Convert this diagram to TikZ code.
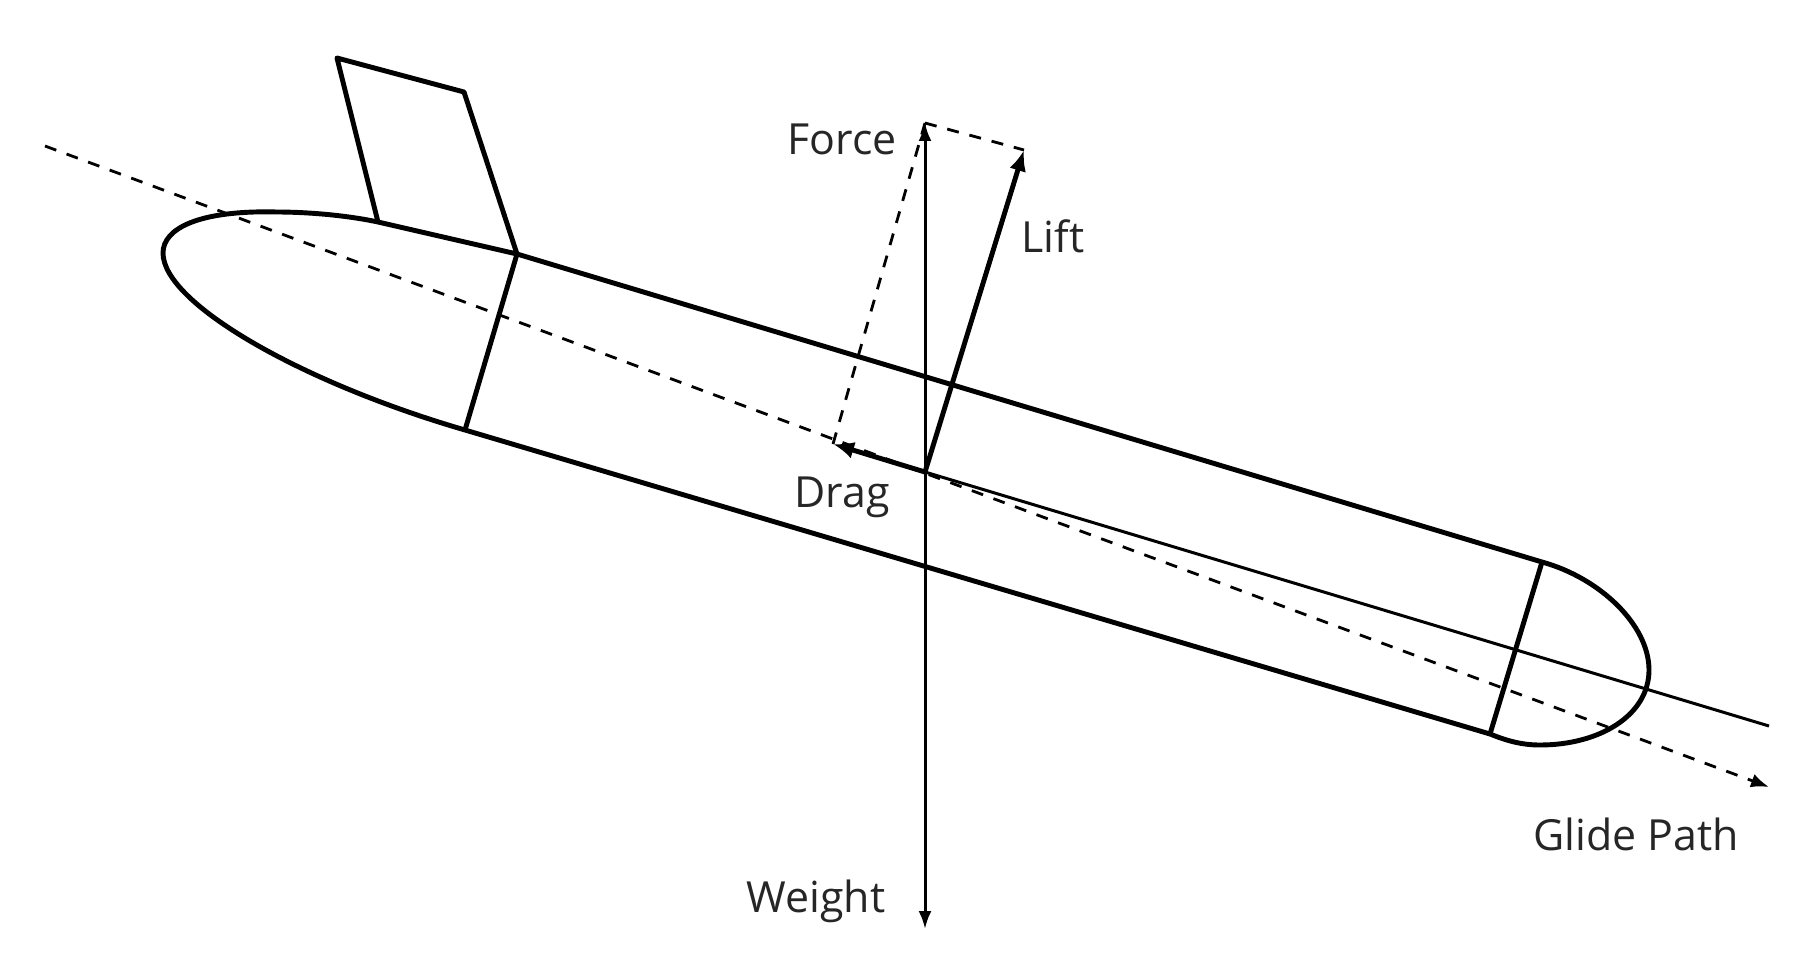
\documentclass[tikz,border=0pt]{standalone}
\usepackage{fontspec}
\setmainfont{Open Sans}
\usetikzlibrary{arrows.meta}
\tikzset{
    hull/.style={line width=2.8pt,line join=round},
    thinline/.style={line width=1.7pt},
    dashline/.style={line width=1.6pt,dash pattern=on 0.24cm off 0.22cm},
    forceTip/.style={-{Latex[length=0.42cm,width=0.34cm]}},
    forceText/.style={anchor=base,inner sep=0pt,font=\fontsize{24.4}{28}\selectfont,text=black!85}
}
\begin{document}
\begin{tikzpicture}[x=0.02cm,y=-0.02cm]
    \useasboundingbox (0,0) rectangle (1798,960);
    \coordinate (finTopL) at (337,58);
    \coordinate (finTopR) at (464,92);
    \coordinate (finBotR) at (517,254);
    \coordinate (finBotL) at (378,222);
    \coordinate (noseBot) at (465,430);
    \coordinate (tailTop) at (1542,562);
    \coordinate (tailBot) at (1490,734);
    \coordinate (glideStart) at (45,146);
    \coordinate (glideEnd) at (1769,787);
    \coordinate (bodyEnd) at (1769,726);
    \coordinate (center) at (925,472);
    \coordinate (forceEnd) at (925,123);
    \coordinate (weightEnd) at (925,929);
    \coordinate (liftEnd) at (1024,150);
    \coordinate (dragEnd) at (833,444);
    % body outline
    \draw[hull] (finBotL) .. controls (340,214) and (300,212) .. (277,212)
        .. controls (200,210) and (163,228) .. (163,253)
        .. controls (163,303) and (300,382) .. (noseBot) -- (tailBot)
        .. controls (1505,740) and (1520,745) .. (1540,745)
        .. controls (1600,745) and (1649,715) .. (1649,670)
        .. controls (1649,625) and (1600,578) .. (tailTop) -- (finBotR) -- (finBotL) -- cycle;
    \draw[hull] (finBotL) -- (finTopL) -- (finTopR) -- (finBotR);
    \draw[hull] (finBotR) -- (noseBot);
    \draw[hull] (tailTop) -- (tailBot);
    % axes
    \draw[dashline,-{Latex[length=0.36cm,width=0.28cm]}] (glideStart) -- (glideEnd);
    \draw[thinline] (center) -- (bodyEnd);
    \draw[thinline,-{Latex[length=0.36cm,width=0.26cm]}] (center) -- (forceEnd);
    \draw[thinline,-{Latex[length=0.36cm,width=0.26cm]}] (center) -- (weightEnd);
    % components
    \draw[hull,forceTip] (center) -- (liftEnd);
    \draw[hull,forceTip] (center) -- (dragEnd);
    \draw[dashline] (forceEnd) -- (liftEnd);
    \draw[dashline] (forceEnd) -- (dragEnd);
    % labels
    \node[forceText] (forceLabel) at (842,154) {Force};
    \node[forceText] (liftLabel) at (1053,252) {Lift};
    \node[forceText] (dragLabel) at (842,507) {Drag};
    \node[forceText] (glideLabel) at (1636,850) {Glide Path};
    \node[forceText] (weightLabel) at (816,912) {Weight};
\end{tikzpicture}
\end{document}
